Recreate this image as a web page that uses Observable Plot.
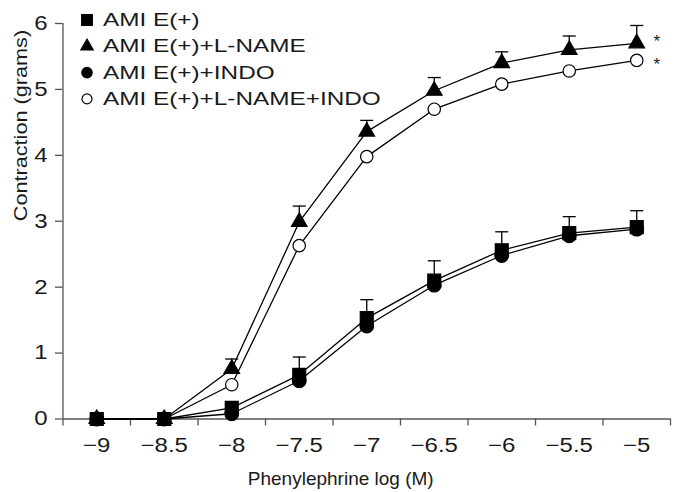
<!DOCTYPE html>
<html>
<head>
<meta charset="utf-8">
<script src="https://cdn.jsdelivr.net/npm/d3@7"></script>
<script src="https://cdn.jsdelivr.net/npm/@observablehq/plot@0.6"></script>
<style>
  html, body { margin: 0; padding: 0; background: #fff; }
  #chart { width: 674px; height: 492px; }
  #chart svg { font-family: "Liberation Sans", Arial, sans-serif; }
</style>
</head>
<body>
<div id="chart"></div>
<script>
// Phenylephrine concentration (log M)
const doses = [-9, -8.5, -8, -7.5, -7, -6.5, -6, -5.5, -5];

// Mean contraction (grams) per group
const amiE = [0, 0, 0.17, 0.67, 1.53, 2.10, 2.56, 2.82, 2.91];
const amiELname = [0, 0, 0.76, 2.99, 4.36, 4.98, 5.40, 5.60, 5.70];
const amiEIndo = [0, 0, 0.08, 0.58, 1.41, 2.03, 2.48, 2.78, 2.88];
const amiELnameIndo = [0, 0, 0.52, 2.63, 3.98, 4.70, 5.08, 5.28, 5.44];

// Upper end of the error bars (mean + SEM); null where no bar is drawn
const amiEErrTop = [null, null, null, 0.94, 1.81, 2.40, 2.84, 3.07, 3.16];
const amiELnameErrTop = [null, null, 0.91, 3.23, 4.53, 5.18, 5.57, 5.81, 5.97];

const seriesNames = ["AMI E(+)", "AMI E(+)+L-NAME", "AMI E(+)+INDO", "AMI E(+)+L-NAME+INDO"];
const yTicks = [0, 1, 2, 3, 4, 5, 6];
const xTitle = "Phenylephrine log (M)";
const yTitle = "Contraction (grams)";
const significant = "*";

// Series styling (symbol, fill, point radius, legend radius)
const styles = {
  "AMI E(+)": {symbol: "square", fill: "black", r: 7.3, lr: 6},
  "AMI E(+)+L-NAME": {symbol: "triangle", fill: "black", r: 5.8, lr: 4.6},
  "AMI E(+)+INDO": {symbol: "circle", fill: "black", r: 6.8, lr: 5.2},
  "AMI E(+)+L-NAME+INDO": {symbol: "circle", fill: "white", r: 6.2, lr: 5}
};
const seriesValues = [amiE, amiELname, amiEIndo, amiELnameIndo];

const rows = seriesNames.flatMap((name, i) =>
  doses.map((x, j) => ({series: name, x, y: seriesValues[i][j]})));

const errRows = [
  ...doses.map((x, j) => ({x, y: amiE[j], top: amiEErrTop[j]})),
  ...doses.map((x, j) => ({x, y: amiELname[j], top: amiELnameErrTop[j]}))
].filter(d => d.top != null);

// Asterisks next to the last point of the two L-NAME curves
const last = doses.length - 1;
const starLname = [{x: doses[last], y: amiELname[last]}];
const starLnameIndo = [{x: doses[last], y: amiELnameIndo[last]}];

// Category-style x axis: labels at each dose, ticks between doses
const half = 0.25;
const xMin = doses[0] - half, xMax = doses[last] + half;
const boundaries = d3.range(doses.length + 1).map(i => xMin + i * 0.5);
const fmt = d => (d < 0 ? "\u2212" : "") + Math.abs(d);

// Horizontal cap for the error bars
const capSymbol = {
  draw(context, size) {
    const w = Math.sqrt(size / Math.PI);
    context.moveTo(-w, 0);
    context.lineTo(w, 0);
  }
};

const axisColor = "#555";
const textColor = "#1a1a1a";

const drawOrder = ["AMI E(+)+L-NAME+INDO", "AMI E(+)+INDO", "AMI E(+)+L-NAME", "AMI E(+)"];

const legendMarks = seriesNames.flatMap((name, i) => [
  Plot.dot([name], {
    frameAnchor: "top-left", dx: 24, dy: -3.5 + 26.3 * i,
    symbol: styles[name].symbol, r: styles[name].lr,
    fill: styles[name].fill, stroke: "black", strokeWidth: 1.2
  }),
  Plot.text([name], {
    frameAnchor: "top-left", dx: 40, dy: -3.5 + 26.3 * i,
    text: d => d, textAnchor: "start", lineAnchor: "middle",
    fontSize: 19, fill: textColor
  })
]);

const chart = Plot.plot({
  width: 674,
  height: 492,
  marginLeft: 62.5,
  marginRight: 4,
  marginTop: 23,
  marginBottom: 73.5,
  style: {fontFamily: "Liberation Sans, Arial, sans-serif", color: textColor, background: "white"},
  x: {domain: [xMin, xMax]},
  y: {domain: [0, 6]},
  marks: [
    // axes
    Plot.ruleX([xMin], {y1: 0, y2: 6, stroke: axisColor, strokeWidth: 1.3}),
    Plot.ruleY([0], {x1: xMin, x2: xMax, stroke: axisColor, strokeWidth: 1.3}),
    Plot.axisY(yTicks, {tickSize: 7.5, tickPadding: 8, stroke: axisColor, strokeWidth: 1.3,
      tickFormat: d => String(d), fontSize: 20, fill: textColor, label: null}),
    Plot.axisX(boundaries, {tickSize: 7, stroke: axisColor, strokeWidth: 1.3,
      tickFormat: () => "", label: null}),
    Plot.axisX(doses, {tickSize: 0, tickPadding: 18.5, tickFormat: fmt, fontSize: 20,
      fill: textColor, label: null}),
    Plot.text([xTitle], {frameAnchor: "bottom", dy: 66, dx: -26,
      text: d => d, fontSize: 19, fill: textColor}),
    Plot.text([yTitle], {frameAnchor: "left", dx: -42, rotate: -90,
      text: d => d, fontSize: 19, fill: textColor}),
    // curves
    Plot.line(rows, {x: "x", y: "y", z: "series", stroke: "black", strokeWidth: 1.3}),
    // error bars (upper half only)
    Plot.ruleX(errRows, {x: "x", y1: "y", y2: "top", stroke: "black", strokeWidth: 1.3}),
    Plot.dot(errRows, {x: "x", y: "top", symbol: capSymbol, r: 6.5, stroke: "black",
      fill: "none", strokeWidth: 1.3}),
    // points
    ...drawOrder.map(name => Plot.dot(rows.filter(d => d.series === name), {
      x: "x", y: "y", symbol: styles[name].symbol, r: styles[name].r,
      fill: styles[name].fill, stroke: "black", strokeWidth: 1.2
    })),
    Plot.text(starLname, {x: "x", y: "y", text: () => significant, dx: 20, dy: -1.5,
      fontSize: 17, fill: textColor}),
    Plot.text(starLnameIndo, {x: "x", y: "y", text: () => significant, dx: 20, dy: 4.5,
      fontSize: 17, fill: textColor}),
    ...legendMarks
  ]
});

document.getElementById("chart").appendChild(chart);

// The typeface is set a little wide: stretch glyphs horizontally
const tickLabels = new Set([...doses.map(fmt), ...yTicks.map(String)]);
function widenFactor(s) {
  if (seriesNames.includes(s)) return 1.28;
  if (s === yTitle) return 1.14;
  if (tickLabels.has(s)) return 1.2;
  return 1;
}
chart.querySelectorAll("text").forEach(t => {
  const f = widenFactor(t.textContent);
  if (f === 1) return;
  const len = t.getComputedTextLength();
  t.setAttribute("textLength", (len * f).toFixed(2));
  t.setAttribute("lengthAdjust", "spacingAndGlyphs");
});
</script>
</body>
</html>
